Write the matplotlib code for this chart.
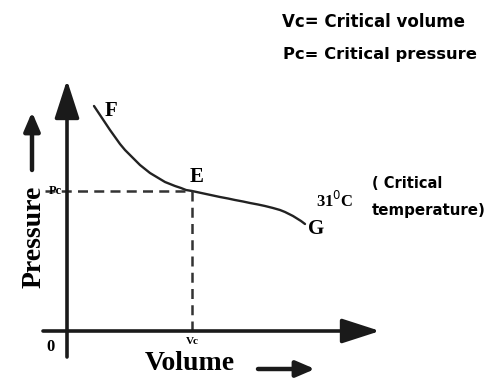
import matplotlib.pyplot as plt

# critical isotherm F -> E -> G (volume, pressure), arbitrary units
volume = [27, 31, 35, 39, 43, 48, 53, 58, 63, 68, 73, 78, 83, 88, 93, 98, 103, 108, 114, 119, 125,
          132, 139, 146, 153, 161, 168, 176, 183, 191, 198, 206, 213, 218, 222, 226, 230, 234, 238]
pressure = [225, 219, 213, 207, 201, 194, 187, 181, 176, 171, 166, 162, 158, 155, 152, 149, 147, 145, 143, 141, 140,
            138.5, 137, 135.5, 134, 132.5, 131, 129.5, 128, 126.5, 125, 123, 121, 119, 117, 115, 112.5, 110, 107]

# critical point E
vc = 125
pc = 140

point_labels = ['F', 'E', 'G']
point_pos = [(44, 220), (130, 154), (249, 102)]

fig = plt.figure(figsize=(4.92, 3.78), dpi=100)
ax = fig.add_axes([0, 0, 1, 1])
ax.set_xlim(-67, 425)
ax.set_ylim(-47, 331)
ax.axis('off')

serif = 'Liberation Serif'
sans = 'DejaVu Sans'
ink = '#1a1a1a'

# axes with arrows
big_head = dict(arrowstyle='-|>,head_length=1.3,head_width=0.42', mutation_scale=18,
                lw=2.6, color=ink, shrinkA=0, shrinkB=0)
ax.annotate('', xy=(0, 251), xytext=(0, -26), arrowprops=big_head)
ax.annotate('', xy=(313, 0), xytext=(-24, 0), arrowprops=big_head)

# isotherm
ax.plot(volume, pressure, color='#222222', lw=1.7, solid_capstyle='round')

# dashed guides to Pc and Vc
ax.plot([-22, vc], [pc, pc], color='#333333', lw=1.8, ls=(0, (4, 2.5)))
ax.plot([vc, vc], [pc, 0], color='#333333', lw=1.8, ls=(0, (4, 2.5)))

for lab, (x, y) in zip(point_labels, point_pos):
    ax.text(x, y, lab, fontsize=15, fontweight='bold', family=serif, ha='center', va='center')

ax.text(-12, pc, 'Pc', fontsize=9, fontweight='bold', family=serif, ha='center', va='center')
ax.text(vc, -11, 'Vc', fontsize=8, fontweight='bold', family=serif, ha='center', va='center')
ax.text(-17, -16, '0', fontsize=12, fontweight='bold', family=serif, ha='center', va='center')

ax.text(268, 130, r'31$^{0}$C', fontsize=12, fontweight='bold', family=serif, ha='center', va='center')
ax.text(305, 148, '( Critical', fontsize=10.5, fontweight='bold', family=sans, ha='left', va='center')
ax.text(305, 121, 'temperature)', fontsize=10.8, fontweight='bold', family=sans, ha='left', va='center')

ax.text(215, 309, 'Vc= Critical volume', fontsize=12, fontweight='bold', family=sans, ha='left', va='center')
ax.text(216, 276, 'Pc= Critical pressure', fontsize=11.8, fontweight='bold', family=sans, ha='left', va='center')

# axis titles with small arrows
small_head = dict(arrowstyle='-|>,head_length=1.4,head_width=0.6', mutation_scale=8,
                  lw=3.2, color=ink, shrinkA=0, shrinkB=0)
ax.text(123, -33, 'Volume', fontsize=20, fontweight='bold', family=serif, ha='center', va='center')
ax.annotate('', xy=(248, -38), xytext=(191, -38), arrowprops=small_head)
ax.text(-33, 94, 'Pressure', fontsize=20, fontweight='bold', family=serif, rotation=90,
        ha='center', va='center')
ax.annotate('', xy=(-35, 219), xytext=(-35, 161), arrowprops=small_head)

plt.savefig('out.png', dpi=100)
